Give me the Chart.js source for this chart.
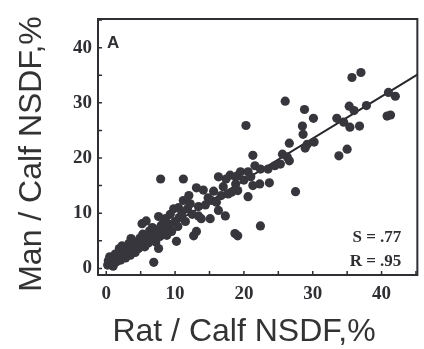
<!DOCTYPE html>
<html>
<head>
<meta charset="utf-8">
<script src="https://cdn.jsdelivr.net/npm/chart.js@4.4.0/dist/chart.umd.min.js"></script>
<style>
  html, body { margin: 0; padding: 0; background: #fff; }
</style>
</head>
<body>
<canvas id="chart" width="424" height="349"></canvas>
<script>
// values (Rat/Calf vs Man/Calf NSDF, %)
const ratX = [
  0.2, 0.3, 0.5, 0.8, 1.0, 1.1, 1.3, 1.5, 1.7, 1.9, 2.1, 2.3, 2.4, 2.6, 2.8, 3.0, 3.2, 3.3, 3.5, 3.6,
  3.7, 4.0, 4.2, 4.3, 4.5, 4.7, 4.9, 5.0, 5.2, 5.3, 5.5, 5.6, 5.8, 6.0, 6.1, 6.3, 6.5, 6.7, 6.9, 7.0,
  7.2, 7.4, 7.6, 7.6, 7.8, 8.0, 8.2, 8.4, 8.6, 8.8, 9.0, 9.2, 9.3, 9.5, 9.8, 10.0, 10.2, 10.4, 10.5, 10.6,
  7.9, 10.9, 11.0, 11.2, 11.2, 11.5, 11.8, 12.0, 12.2, 12.5, 12.7, 13.1, 13.1, 13.4, 13.4, 13.8, 14.1, 14.4, 14.8, 15.1,
  15.3, 15.6, 16.0, 16.3, 16.3, 16.7, 17.0, 17.3, 17.4, 17.7, 18.0, 18.2, 18.7, 18.8, 18.8, 19.1, 19.1, 19.1, 19.5, 20.0,
  20.3, 20.6, 20.6, 21.0, 21.3, 21.3, 21.6, 22.3, 22.4, 22.4, 23.5, 23.7, 24.5, 25.3, 25.6, 26.0, 26.3, 26.6, 26.6, 27.5,
  28.5, 28.6, 28.8, 28.9, 29.2, 30.1, 30.2, 33.5, 33.8, 34.5, 35.0, 35.3, 35.4, 35.7, 36.0, 36.8, 37.0, 37.8, 40.8, 41.3,
  41.0, 42.0
];
const manY = [
  0.6, 1.4, 2.1, 1.0, 0.4, 1.8, 2.6, 1.2, 2.0, 3.6, 1.5, 4.1, 2.6, 3.0, 1.9, 2.7, 3.6, 4.5, 2.4, 5.4,
  3.2, 4.0, 2.9, 4.1, 4.8, 3.6, 5.5, 4.3, 8.1, 6.2, 5.0, 3.9, 8.6, 5.8, 4.6, 6.8, 5.3, 7.4, 1.1, 6.2,
  4.8, 7.0, 9.4, 3.6, 5.8, 7.8, 6.6, 8.4, 9.0, 6.0, 7.2, 8.0, 9.8, 6.7, 10.8, 8.5, 4.9, 7.6, 11.0, 9.2,
  16.2, 9.5, 10.2, 16.2, 12.3, 8.5, 10.8, 13.2, 11.7, 9.8, 5.9, 6.7, 14.6, 11.2, 9.5, 9.0, 14.2, 11.5, 12.8, 9.0,
  12.3, 14.0, 12.0, 10.5, 16.6, 13.2, 14.8, 9.5, 16.2, 13.5, 16.9, 13.8, 6.3, 16.6, 15.3, 14.1, 16.8, 5.9, 17.5, 16.0,
  25.9, 17.5, 13.0, 16.6, 20.5, 15.0, 18.6, 15.3, 18.0, 7.7, 18.0, 15.5, 18.6, 18.9, 20.7, 30.3, 20.2, 19.5, 22.7, 13.9,
  25.8, 24.3, 28.8, 21.8, 22.5, 27.2, 22.9, 27.2, 20.4, 26.5, 21.6, 29.4, 25.6, 34.6, 28.6, 25.8, 35.5, 29.5, 27.6, 27.8,
  31.9, 31.2
];

// regression line end points as drawn
const fitX = [0, 45.2];
const fitY = [0.7, 35.1];

const tickFont = { family: "Liberation Serif", weight: "bold", size: 19 };
const ink = "#2e2e33";

const frame = {
  id: "frame",
  afterDraw(chart) {
    const { ctx, chartArea: a, scales } = chart;
    ctx.save();
    ctx.strokeStyle = ink;
    ctx.lineWidth = 2;
    ctx.strokeRect(a.left, a.top, a.right - a.left, a.bottom - a.top);

    // small inward ticks
    ctx.lineWidth = 1.5;
    ctx.beginPath();
    scales.x.ticks.forEach((t, i) => {
      const px = scales.x.getPixelForTick(i);
      ctx.moveTo(px, a.bottom);
      ctx.lineTo(px, a.bottom - 4);
    });
    scales.y.ticks.forEach((t, i) => {
      const py = scales.y.getPixelForTick(i);
      ctx.moveTo(a.left, py);
      ctx.lineTo(a.left + 4, py);
    });
    ctx.stroke();

    ctx.fillStyle = ink;
    ctx.font = "bold 17px 'Liberation Sans'";
    ctx.textAlign = "left";
    ctx.textBaseline = "alphabetic";
    ctx.fillText("A", a.left + 9, a.top + 29);

    ctx.font = "bold 17px 'Liberation Serif'";
    ctx.textAlign = "right";
    ctx.fillText("S = .77", a.right - 16, a.bottom - 33);
    ctx.fillText("R = .95", a.right - 16, a.bottom - 9);

    // axis titles
    ctx.fillStyle = "#333";
    ctx.font = "32px 'Liberation Sans'";
    ctx.textAlign = "center";
    ctx.textBaseline = "middle";
    ctx.fillText("Rat / Calf NSDF,%", 244, 332);
    ctx.translate(32, 154);
    ctx.rotate(-Math.PI / 2);
    ctx.fillText("Man / Calf NSDF,%", 0, 0);
    ctx.restore();
  }
};

const tickLabel = v => (v % 10 === 0 ? v : "");

new Chart(document.getElementById("chart"), {
  type: "scatter",
  data: {
    datasets: [
      {
        data: ratX.map((x, i) => ({ x, y: manY[i] })),
        backgroundColor: "#36363c",
        borderWidth: 0,
        pointRadius: 4.6,
      },
      {
        type: "line",
        data: fitX.map((x, i) => ({ x, y: fitY[i] })),
        borderColor: "#26262a",
        borderWidth: 2,
        pointRadius: 0,
        fill: false,
      },
    ],
  },
  options: {
    responsive: false,
    animation: false,
    layout: { padding: { top: 19, right: 3, left: 0, bottom: 0 } },
    plugins: { legend: { display: false }, tooltip: { enabled: false } },
    scales: {
      x: {
        type: "linear",
        min: -1.2,
        max: 45.2,
        afterFit: s => { s.height = 74; },
        grid: { display: false, drawTicks: false },
        border: { display: false },
        ticks: { stepSize: 5, includeBounds: false, padding: 8, color: ink, font: tickFont, callback: tickLabel, maxRotation: 0 },
      },
      y: {
        type: "linear",
        min: -1.2,
        max: 45.2,
        afterFit: s => { s.width = 98; },
        grid: { display: false, drawTicks: false },
        border: { display: false },
        ticks: { stepSize: 5, includeBounds: false, padding: 6, color: ink, font: tickFont, callback: tickLabel },
      },
    },
  },
  plugins: [frame],
});
</script>
</body>
</html>
